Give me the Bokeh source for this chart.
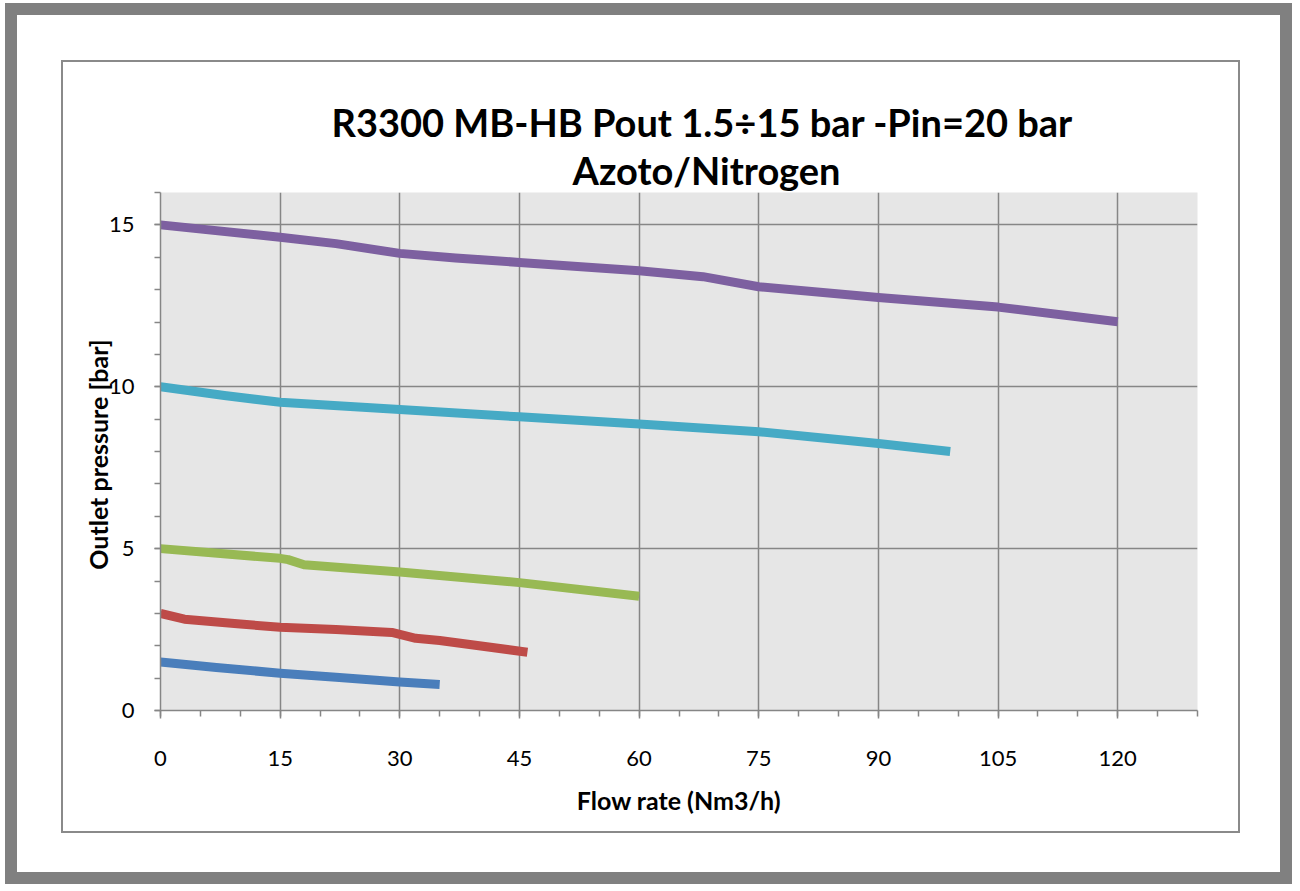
from bokeh.plotting import figure
from bokeh.models import Range1d, FixedTicker, Title
from bokeh.embed import file_html
from bokeh.resources import INLINE

# ---- data ----
title_line1 = "R3300 MB-HB Pout 1.5÷15 bar -Pin=20 bar"
title_line2 = "Azoto/Nitrogen"
x_label = "Flow rate (Nm3/h)"
y_label = "Outlet pressure  [bar]"

x_major = [0, 15, 30, 45, 60, 75, 90, 105, 120]
x_minor = list(range(0, 131, 5))
y_major = [0, 5, 10, 15]
y_minor = list(range(0, 17))

blue_x = [0, 7, 15, 22, 30, 35]
blue_y = [1.5, 1.33, 1.15, 1.03, 0.88, 0.8]

red_x = [0, 3, 10, 15, 22, 29, 32, 35, 46]
red_y = [3.0, 2.82, 2.67, 2.57, 2.5, 2.41, 2.23, 2.16, 1.8]

green_x = [0, 15, 16, 18, 30, 45, 60]
green_y = [5.0, 4.7, 4.66, 4.5, 4.28, 3.95, 3.53]

cyan_x = [0, 8, 15, 30, 45, 60, 75, 90, 99]
cyan_y = [10.0, 9.73, 9.52, 9.3, 9.07, 8.85, 8.61, 8.25, 8.0]

purple_x = [0, 15, 22, 30, 37, 45, 60, 68, 75, 90, 105, 120]
purple_y = [15.0, 14.62, 14.42, 14.12, 13.98, 13.84, 13.58, 13.4, 13.09, 12.76, 12.46, 12.01]

series = [
    (blue_x, blue_y, "#4A7EBB"),
    (red_x, red_y, "#BE4B48"),
    (green_x, green_y, "#98B954"),
    (cyan_x, cyan_y, "#46AAC5"),
    (purple_x, purple_y, "#7D60A0"),
]

FONT = "Lato"
GRID = "#868686"

p = figure(width=1179, height=773, output_backend="svg", toolbar_location=None,
           x_range=Range1d(0, 130), y_range=Range1d(0, 16),
           min_border_left=97, min_border_right=45,
           min_border_top=130, min_border_bottom=125)
p.styles = {
    "margin-left": "61px",
    "margin-top": "60px",
    "border": "2px solid #8a8a8a",
    "box-shadow": "-2px -3px 0 42px #ffffff, -2px -3px 0 54px #808080",
}
p.background_fill_color = "#e6e6e6"
p.border_fill_color = "white"
p.outline_line_color = None

for xs, ys, c in series:
    p.line(xs, ys, line_color=c, line_width=9, line_cap="butt", line_join="round")

# axes
p.xaxis.ticker = FixedTicker(ticks=x_major, minor_ticks=x_minor)
p.yaxis.ticker = FixedTicker(ticks=y_major, minor_ticks=y_minor)
for ax in (p.xaxis, p.yaxis):
    ax.axis_line_color = GRID
    ax.axis_line_width = 1.5
    ax.major_tick_line_color = GRID
    ax.minor_tick_line_color = GRID
    ax.major_tick_line_width = 1.5
    ax.minor_tick_line_width = 1.5
    ax.major_tick_in = 0
    ax.minor_tick_in = 0
    ax.major_label_text_font = FONT
    ax.major_label_text_font_size = "22px"
    ax.major_label_text_color = "black"
    ax.axis_label_text_font = FONT
    ax.axis_label_text_font_style = "bold"
    ax.axis_label_text_font_size = "25px"
    ax.axis_label_text_color = "black"

p.xaxis.major_tick_out = 8
p.xaxis.minor_tick_out = 6
p.xaxis.major_label_standoff = 32
p.xaxis.axis_label = x_label
p.xaxis.axis_label_standoff = 16

p.yaxis.major_tick_out = 6
p.yaxis.minor_tick_out = 6
p.yaxis.major_label_standoff = 20
p.yaxis.axis_label = y_label
p.yaxis.axis_label_standoff = -7

p.xgrid.ticker = FixedTicker(ticks=x_major)
p.ygrid.ticker = FixedTicker(ticks=[5, 10, 15])
p.xgrid.grid_line_color = GRID
p.ygrid.grid_line_color = GRID
p.xgrid.grid_line_width = 1.5
p.ygrid.grid_line_width = 1.5

# titles: p.title is the outermost, the added one sits next to the plot area
p.title.text = title_line1
p.title.align = "left"
p.title.offset = 171
p.title.standoff = 0
p.title.text_font = FONT
p.title.text_font_style = "bold"
p.title.text_font_size = "38px"
p.title.text_color = "black"
p.add_layout(Title(text=title_line2, align="left", offset=412, standoff=0,
                   text_font=FONT, text_font_style="bold", text_font_size="38px",
                   text_color="black"), "above")

open("out.html", "w").write(file_html(p, INLINE))
